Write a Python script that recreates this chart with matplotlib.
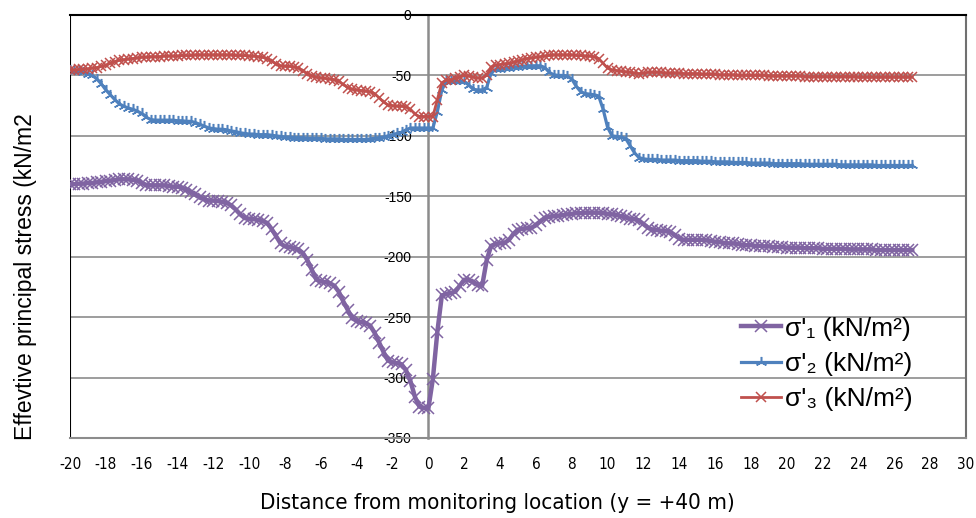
import matplotlib
matplotlib.use("Agg")
import matplotlib.pyplot as plt
import numpy as np

# distance from monitoring location (m), sampled every 0.25 m from -20 to 27
distance = np.arange(-20, 27.01, 0.25)

# sigma'1 (kN/m2), one row per metre
sigma1 = [
    -140, -140, -139.5, -139.5,
    -139, -139, -138.5, -138,
    -137.5, -137, -136.5, -136,
    -136, -136, -136.5, -137,
    -139, -140.5, -141, -141,
    -141, -141, -141.5, -142,
    -142, -143, -144.5, -146.5,
    -148.5, -151, -152.5, -153.5,
    -153.5, -154, -154.5, -155.5,
    -157.5, -161, -165, -168,
    -168.5, -169, -169.5, -170.5,
    -172, -177, -183, -189,
    -191.5, -192, -193, -194,
    -197, -203, -211, -219,
    -220.5, -221, -222, -224,
    -229, -237, -244, -251,
    -253, -254, -255, -257,
    -263, -271, -279, -286,
    -287.5, -288, -289, -294,
    -303, -316, -324, -325,
    -325.5, -301, -262, -232,
    -231, -230, -229, -224,
    -219, -219.5, -221, -223,
    -224, -203, -191, -189.5,
    -189, -188.5, -186, -181,
    -177.5, -177, -176.5, -176,
    -174, -170.5, -168, -167,
    -166.5, -166, -165.5, -165,
    -164.5, -164, -164, -163.5,
    -163.5, -163.5, -163.5, -164,
    -164.5, -165, -165.5, -166.5,
    -167.5, -168.5, -169, -170,
    -173, -176, -177.5, -178,
    -178.5, -179, -179.5, -182,
    -185, -186, -186, -186,
    -186, -186, -186.5, -187,
    -187.5, -188, -188.5, -189,
    -189, -189.5, -190, -190.5,
    -190.5, -191, -191, -191.5,
    -191.5, -192, -192, -192,
    -192.5, -192.5, -192.5, -192.5,
    -193, -193, -193, -193,
    -193.5, -193.5, -193.5, -193.5,
    -193.5, -193.5, -194, -194,
    -194, -194, -194, -194,
    -194.5, -194.5, -194.5, -194.5,
    -194.5, -194.5, -194.5, -194.5,
    -194.5,
]

# sigma'2 (kN/m2)
sigma2 = [
    -45.5, -46, -46.5, -47.5,
    -48.5, -50, -53, -57,
    -62, -66, -70, -73.5,
    -75.5, -77, -78, -79.5,
    -81.5, -84.5, -86.5, -87,
    -87, -87, -87, -87,
    -87.5, -87.5, -88, -88,
    -89, -90.5, -92, -93.5,
    -94, -94.5, -94.5, -95,
    -96, -96.5, -97.5, -98,
    -98.5, -98.5, -99, -99,
    -99, -99.5, -100, -100.5,
    -101, -101, -101.5, -101.5,
    -101.5, -102, -102, -102,
    -102, -102.5, -102.5, -102.5,
    -102.5, -103, -103, -103,
    -103, -103, -103, -102.5,
    -102, -101.5, -101, -100,
    -99, -98, -97, -95,
    -93.5, -93.5, -93.5, -93.5,
    -93.5, -93.5, -80, -62,
    -55, -55, -55, -55,
    -55, -58, -61.5, -62,
    -62, -60, -48, -45,
    -44.5, -44, -43.5, -43,
    -43, -42.5, -42, -42,
    -42, -42, -43.5, -47.5,
    -49.5, -50, -50, -50.5,
    -53, -59, -63.5, -65,
    -65.5, -66, -67, -78,
    -93, -100, -100.5, -101,
    -102, -108, -114, -118,
    -119, -119.5, -119.5, -119.5,
    -120, -120, -120, -120,
    -120.5, -120.5, -120.5, -120.5,
    -120.5, -121, -121, -121,
    -121.5, -121.5, -121.5, -121.5,
    -122, -122, -122, -122,
    -122.5, -122.5, -122.5, -122.5,
    -122.5, -123, -123, -123,
    -123, -123, -123, -123,
    -123.5, -123.5, -123.5, -123.5,
    -123.5, -123.5, -123.5, -123.5,
    -124, -124, -124, -124,
    -124, -124, -124, -124,
    -124.5, -124.5, -124.5, -124.5,
    -124.5, -124.5, -124.5, -124.5,
    -124.5,
]

# sigma'3 (kN/m2)
sigma3 = [
    -45.5, -45.5, -45, -45,
    -44.5, -44, -43.5, -42.5,
    -41.5, -40, -38.5, -37.5,
    -37, -36.5, -36, -35.5,
    -35, -35, -34.5, -34.5,
    -34.5, -34, -34, -34,
    -34, -33.5, -33.5, -33.5,
    -33, -33, -33, -33,
    -33, -33, -33, -33,
    -33, -33.5, -33.5, -33.5,
    -34, -34, -34.5, -35,
    -36, -38, -40.5, -42,
    -42.5, -42.5, -43, -44,
    -46, -48.5, -50.5, -51.5,
    -52, -52.5, -53, -53.5,
    -55, -57.5, -60, -61.5,
    -62, -62.5, -63, -63.5,
    -65, -68.5, -72, -74.5,
    -75, -75.5, -75.5, -76,
    -78, -82, -84, -84,
    -84, -84, -70, -56,
    -54, -53.5, -52.5, -51,
    -50, -50.5, -51.5, -52,
    -52, -50, -43, -41.5,
    -41, -40.5, -40, -39,
    -38, -37, -36, -35.5,
    -35, -34.5, -34, -33.5,
    -33, -33, -33, -33,
    -33, -33.5, -33.5, -34,
    -34, -34.5, -36, -40,
    -44, -45.5, -46, -46.5,
    -47, -47.5, -48, -48.5,
    -48, -47.5, -47.5, -47.5,
    -47.5, -48, -48, -48,
    -48, -48.5, -48.5, -48.5,
    -48.5, -49, -49, -49,
    -49, -49.5, -49.5, -49.5,
    -49.5, -50, -50, -50,
    -50, -50, -50, -50,
    -50.5, -50.5, -50.5, -50.5,
    -50.5, -50.5, -50.5, -50.5,
    -51, -51, -51, -51,
    -51, -51, -51, -51,
    -51, -51, -51, -51,
    -51.5, -51.5, -51.5, -51.5,
    -51.5, -51.5, -51.5, -51.5,
    -51.5, -51.5, -51.5, -51.5,
    -51.5,
]

labels = ["σ'\u2081 (kN/m²)", "σ'\u2082 (kN/m²)", "σ'\u2083 (kN/m²)"]
x_ticks = np.arange(-20, 31, 2)
y_ticks = np.arange(-350, 1, 50)

plt.rcParams["font.family"] = ["Liberation Sans", "DejaVu Sans"]

fig = plt.figure(figsize=(9.76, 5.18), dpi=100)
ax = fig.add_axes([70 / 976, 1 - 438 / 518, 896 / 976, 423 / 518])

ax.plot(distance, sigma1, color="#8064A2", lw=3.2, marker="x", ms=8.5, mew=1.1,
        label=labels[0], zorder=3)
ax.plot(distance, sigma2, color="#4F81BD", lw=2.3, marker=(3, 2, 0), ms=8, mew=1.1,
        label=labels[1], zorder=4)
ax.plot(distance, sigma3, color="#C0504D", lw=2.0, marker="x", ms=7, mew=1.1,
        label=labels[2], zorder=5)

ax.set_xlim(-20, 30)
ax.set_ylim(-350, 0)
ax.set_xticks(x_ticks)
ax.set_yticks(y_ticks)
ax.set_xticklabels([str(v) for v in x_ticks], family="DejaVu Sans",
                   stretch="condensed", fontsize=11)
ax.set_yticklabels([str(v) for v in y_ticks], fontsize=12)

ax.yaxis.grid(True, color="#8c8c8c", lw=1.2)
ax.set_axisbelow(True)

# vertical axis sits at x = 0, box edge drawn separately at x = -20
ax.spines["left"].set_position(("data", 0))
ax.spines["left"].set_color("#8c8c8c")
ax.spines["left"].set_linewidth(1.8)
ax.spines["left"].set_zorder(2)
ax.axvline(-20, color="black", lw=1.5, zorder=2)
ax.spines["top"].set_color("black")
ax.spines["top"].set_linewidth(1.5)
ax.spines["right"].set_color("#707070")
ax.spines["right"].set_linewidth(1.5)
ax.spines["bottom"].set_color("#8c8c8c")
ax.spines["bottom"].set_linewidth(1.5)

ax.tick_params(axis="y", length=0, pad=12)
ax.tick_params(axis="x", length=0, pad=14)

ax.set_xlabel("Distance from monitoring location (y = +40 m)", family="DejaVu Sans",
              stretch="condensed", fontsize=16)
ax.xaxis.set_label_coords((497 - 70) / 896, -0.13)
fig.text(26 / 976, 1 - 277 / 518, "Effevtive principal stress (kN/m2", rotation=90,
         fontsize=16.5, ha="center", va="center")

ax.legend(loc="lower right", bbox_to_anchor=((936 - 70) / 896, 0.008), frameon=False,
          fontsize=19, handlelength=1.5, handletextpad=0.15, labelspacing=0.42)

fig.savefig("out.png", dpi=100)
